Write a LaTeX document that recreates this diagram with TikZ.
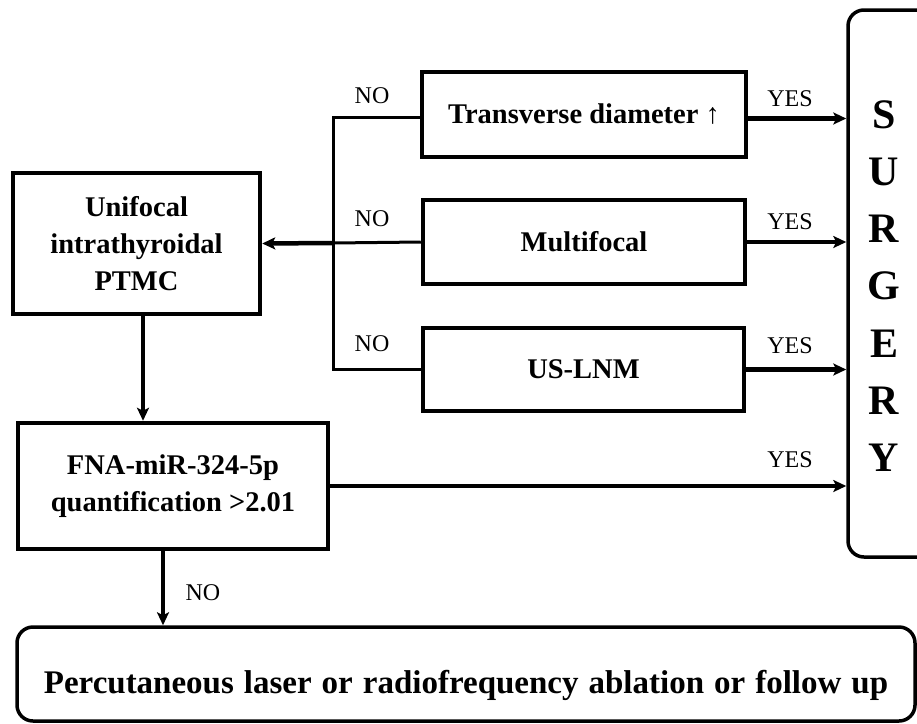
\documentclass[tikz,border=0pt]{standalone}
\usepackage{fontspec}
\setmainfont{Liberation Serif}
\usetikzlibrary{arrows.meta}
\begin{document}
\begin{tikzpicture}[x=1pt,y=1pt,
  box/.style={draw,line width=4.5pt,inner sep=0pt,font=\bfseries\fontsize{28.5}{37}\selectfont,align=center},
  rbox/.style={draw,line width=3.5pt,rounded corners=16pt,inner sep=0pt},
  lbl/.style={font=\fontsize{24}{28}\selectfont,inner sep=0pt},
  conn/.style={line width=3pt},
  arr/.style={line width=4.5pt,-{Stealth[length=13pt,width=12pt,inset=3pt]}}]
\useasboundingbox (0,0) rectangle (917,-723);
\clip (0,0) rectangle (917,-723);
% boxes
\node[box,minimum width=324pt,minimum height=85pt] (trans) at (584,-114.5) {Transverse diameter ↑};
\node[box,minimum width=322pt,minimum height=84pt] (multi) at (584,-242) {Multifocal};
\node[box,minimum width=321pt,minimum height=83pt] (uslnm) at (583.5,-369.5) {US-LNM};
\node[box,minimum width=247pt,minimum height=141pt] (uni) at (136.5,-243.5) {Unifocal\\intrathyroidal\\PTMC};
\node[box,minimum width=310pt,minimum height=126pt] (fna) at (173,-486) {FNA-miR-324-5p\\quantification >2.01};
\node[rbox,minimum width=90pt,minimum height=547pt] (surg) at (893,-283.5) {};
\node[font=\bfseries\fontsize{42}{57.3}\selectfont,align=center,inner sep=0pt,anchor=north] (surgtxt) at (884,-100) {S\\U\\R\\G\\E\\R\\Y};
\node[rbox,minimum width=898pt,minimum height=94pt,font=\bfseries\fontsize{33}{38}\selectfont,text height=38pt,text depth=0pt] (abl) at (466,-674) {\spaceskip=10pt\relax Percutaneous laser or radiofrequency ablation or follow up};
% connectors
\coordinate (jct) at (333,-243);
\draw[conn] ([yshift=-3pt]trans.west) -| (jct) |- (uslnm.west);
\draw[conn] (multi.west) -- (jct);
\draw[arr] (jct) -- (uni.east);
\draw[arr] ([yshift=-4pt]trans.east) -- ([yshift=-4pt]trans.east -| surg.west);
\draw[arr] (multi.east) -- (multi.east -| surg.west);
\draw[arr] (uslnm.east) -- (uslnm.east -| surg.west);
\draw[arr] (fna.east) -- (fna.east -| surg.west);
\draw[arr] ([xshift=6.5pt]uni.south) -- ([xshift=6.5pt]uni.south |- fna.north);
\draw[arr] ([xshift=-10pt]fna.south) -- ([xshift=-10pt]fna.south |- abl.north);
% labels
\node[lbl] (no1) at (372,-96) {NO};
\node[lbl] (no2) at (372,-219) {NO};
\node[lbl] (no3) at (372,-344) {NO};
\node[lbl] (no4) at (203,-593) {NO};
\node[lbl] (yes1) at (790,-99) {YES};
\node[lbl] (yes2) at (790,-222) {YES};
\node[lbl] (yes3) at (790,-346) {YES};
\node[lbl] (yes4) at (790,-460) {YES};
\end{tikzpicture}
\end{document}
